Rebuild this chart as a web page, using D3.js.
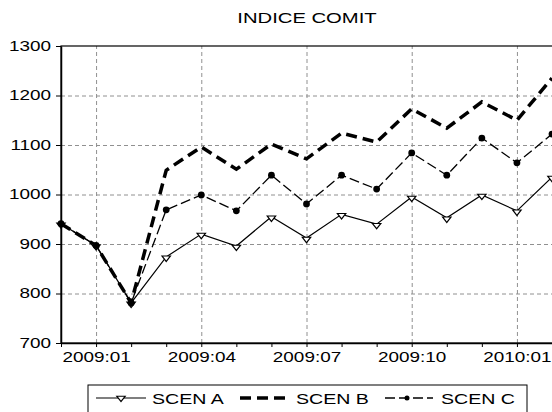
<!DOCTYPE html>
<html>
<head>
<meta charset="utf-8">
<script src="https://cdn.jsdelivr.net/npm/d3@7"></script>
<style>
body { margin: 0; background: #fff; }
text { font-family: "Liberation Sans", Arial, sans-serif; fill: #000; }
</style>
</head>
<body>
<svg id="chart"></svg>
<script>
var width = 552
var height = 412
var plotL = 61, plotR = 552, plotT = 46, plotB = 343
var sx = 1.35 // the reference is stretched sideways

var months = ["2008:12", "2009:01", "2009:02", "2009:03", "2009:04", "2009:05", "2009:06",
    "2009:07", "2009:08", "2009:09", "2009:10", "2009:11", "2009:12", "2010:01", "2010:02"]
var labelled = ["2009:01", "2009:04", "2009:07", "2009:10", "2010:01"]
var yTicks = [700, 800, 900, 1000, 1100, 1200, 1300]

var scenA = [941, 897, 781, 874, 920, 896, 955, 912, 960, 940, 995, 953, 999, 967, 1035]
var scenB = [941, 897, 781, 1049, 1096, 1051, 1102, 1072, 1124, 1106, 1173, 1134, 1187, 1150, 1235]
var scenC = [941, 897, 781, 969, 999, 967, 1039, 981, 1039, 1011, 1084, 1039, 1114, 1064, 1122]

var seriesNames = ["SCEN A", "SCEN B", "SCEN C"]

var svg = d3.select("#chart")
    .attr("width", width)
    .attr("height", height)

var xScale = d3.scalePoint()
    .domain(months)
    .range([plotL, plotR])

var yScale = d3.scaleLinear()
    .domain([700, 1300])
    .range([plotB, plotT])

// grid
svg.append("g")
    .attr("transform", `translate(0, ${plotB})`)
    .call(d3.axisBottom(xScale).tickValues(labelled).tickSize(-(plotB - plotT)).tickFormat(""))
    .call(g => g.select(".domain").remove())
    .selectAll("line")
    .attr("stroke", "#909090")
    .attr("stroke-dasharray", "4,3")

svg.append("g")
    .attr("transform", `translate(${plotL}, 0)`)
    .call(d3.axisLeft(yScale).tickValues([800, 900, 1000, 1100, 1200]).tickSize(-(plotR - plotL)).tickFormat(""))
    .call(g => g.select(".domain").remove())
    .selectAll("line")
    .attr("stroke", "#909090")
    .attr("stroke-dasharray", "4,3")

// frame
svg.append("rect")
    .attr("x", plotL)
    .attr("y", plotT)
    .attr("width", plotR - plotL + 3)
    .attr("height", plotB - plotT)
    .attr("fill", "none")
    .attr("stroke", "#000")
    .attr("stroke-width", 1.2)

// axes
var yAxis = svg.append("g")
    .attr("transform", `translate(${plotL}, 0)`)
    .call(d3.axisLeft(yScale).tickValues(yTicks).tickSize(5).tickSizeOuter(0).tickFormat(d3.format("d")))
yAxis.select(".domain").attr("stroke-width", 1.5)
yAxis.selectAll("text")
    .attr("x", -10 / sx)
    .attr("transform", `scale(${sx},1)`)
    .style("font-size", "14px")
    .style("font-family", "'Liberation Sans', Arial, sans-serif")

var xAxis = svg.append("g")
    .attr("transform", `translate(0, ${plotB})`)
    .call(d3.axisBottom(xScale).tickSize(4).tickSizeOuter(0)
        .tickFormat(d => labelled.indexOf(d) >= 0 ? d : ""))
xAxis.select(".domain").attr("stroke-width", 1.5)
xAxis.selectAll("text")
    .attr("y", 9)
    .attr("transform", `scale(${sx},1)`)
    .style("font-size", "14px")
    .style("font-family", "'Liberation Sans', Arial, sans-serif")

// lines
var line = d3.line()
    .x((d, i) => xScale(months[i]))
    .y(d => yScale(d))

var plot = svg.append("g")

plot.append("path")
    .datum(scenC)
    .attr("d", line)
    .attr("fill", "none")
    .attr("stroke", "#000")
    .attr("stroke-width", 1.3)
    .attr("stroke-dasharray", "10,4")

plot.append("path")
    .datum(scenB)
    .attr("d", line)
    .attr("fill", "none")
    .attr("stroke", "#000")
    .attr("stroke-width", 3.5)
    .attr("stroke-dasharray", "11,6")

plot.append("path")
    .datum(scenA)
    .attr("d", line)
    .attr("fill", "none")
    .attr("stroke", "#000")
    .attr("stroke-width", 1.2)

var tri = d3.symbol().type(d3.symbolTriangle).size(17)

plot.selectAll(".ptA")
    .data(scenA)
    .enter()
    .append("path")
    .attr("d", tri)
    .attr("transform", (d, i) => `translate(${xScale(months[i])}, ${yScale(d) + 1}) rotate(180) scale(1.35,1)`)
    .attr("fill", "#fff")
    .attr("stroke", "#000")
    .attr("stroke-width", 1)

plot.selectAll(".ptC")
    .data(scenC)
    .enter()
    .append("circle")
    .attr("cx", (d, i) => xScale(months[i]))
    .attr("cy", d => yScale(d))
    .attr("r", 3.4)
    .attr("fill", "#000")

// title
svg.append("text")
    .attr("transform", `translate(307, 23) scale(${sx},1)`)
    .attr("text-anchor", "middle")
    .style("font-size", "15px")
    .text("INDICE COMIT")

// legend
var legend = svg.append("g")

legend.append("rect")
    .attr("x", 88)
    .attr("y", 385)
    .attr("width", 439)
    .attr("height", 40)
    .attr("fill", "none")
    .attr("stroke", "#000")
    .attr("stroke-width", 1)

var legX = [96, 240, 385]
var legY = 398

legend.append("line")
    .attr("x1", legX[0]).attr("x2", legX[0] + 50)
    .attr("y1", legY).attr("y2", legY)
    .attr("stroke", "#000").attr("stroke-width", 1.2)
legend.append("path")
    .attr("d", tri)
    .attr("transform", `translate(${legX[0] + 25}, ${legY}) rotate(180) scale(1.35,1)`)
    .attr("fill", "#fff").attr("stroke", "#000")

legend.append("line")
    .attr("x1", legX[1]).attr("x2", legX[1] + 48)
    .attr("y1", legY).attr("y2", legY)
    .attr("stroke", "#000").attr("stroke-width", 3.5)
    .attr("stroke-dasharray", "11,6")

legend.append("line")
    .attr("x1", legX[2]).attr("x2", legX[2] + 48)
    .attr("y1", legY).attr("y2", legY)
    .attr("stroke", "#000").attr("stroke-width", 1.3)
    .attr("stroke-dasharray", "10,4")
legend.append("circle")
    .attr("cx", legX[2] + 22).attr("cy", legY).attr("r", 2.5)
    .attr("fill", "#000")

legend.selectAll(".legText")
    .data(seriesNames)
    .enter()
    .append("text")
    .attr("transform", (d, i) => `translate(${legX[i] + 56}, ${legY + 6}) scale(${sx},1)`)
    .style("font-size", "14.5px")
    .text(d => d)
</script>
</body>
</html>
